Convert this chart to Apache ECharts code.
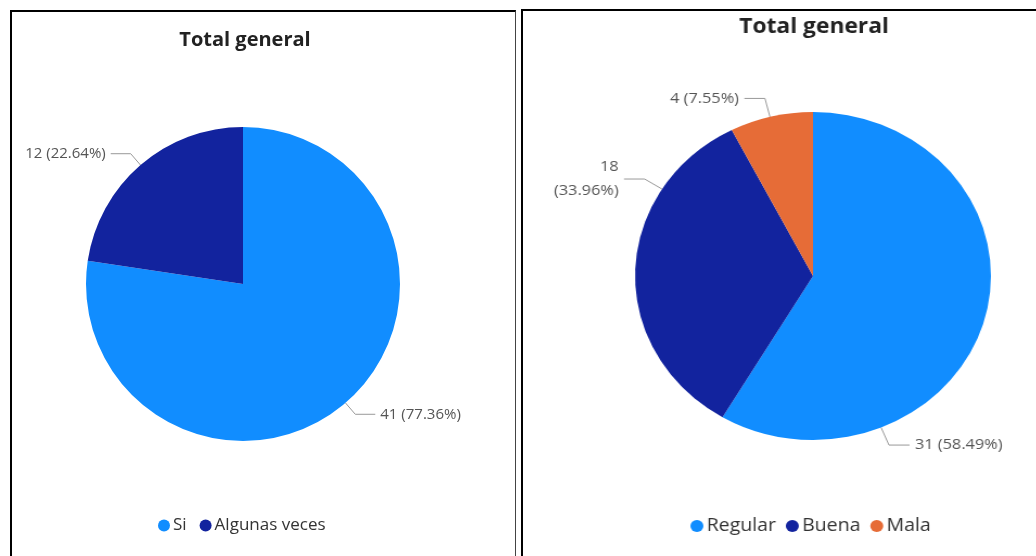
<!DOCTYPE html>
<html>
<head>
<meta charset="utf-8">
<script src="https://cdn.jsdelivr.net/npm/echarts@6/dist/echarts.min.js"></script>
<style>
  html, body { margin: 0; padding: 0; background: #fff; overflow: hidden; }
  .chart { position: absolute; left: 0; top: 0; width: 1036px; height: 556px; }
  #wrapRight { position: absolute; left: 523px; top: 0; width: 513px; height: 556px; overflow: hidden; }
  #right { left: -523px; width: 1400px; transform: scaleX(1.085); transform-origin: 813px 0; }
  .panel { position: absolute; border: 2px solid #000; border-bottom: none; pointer-events: none; }
</style>
</head>
<body>
<div id="left" class="chart"></div>
<div id="wrapRight"><div id="right" class="chart"></div></div>
<div class="panel" style="left:10px;top:10px;width:503px;height:560px;border-right-width:1px;border-right-color:#444"></div>
<div class="panel" style="left:521px;top:9px;width:540px;height:560px"></div>
<script>
// datos de las dos gráficas
var leftNames = ['Si', 'Algunas veces']
var leftValues = [41, 12]
var rightNames = ['Regular', 'Buena', 'Mala']
var rightValues = [31, 18, 4]
var colors = ['#118DFF', '#12239E', '#E66C37']

// ángulo (grados desde arriba, sentido horario) donde Power BI puso cada etiqueta
var rightLabelAngles = [157.5, 302, 346]

function toData (names, values) {
  return names.map(function (n, i) {
    return { name: n, value: values[i], itemStyle: { color: colors[i] } }
  })
}

var labelFont = { color: '#555', fontSize: 15, fontFamily: 'Open Sans' }
var lineStyle = { color: '#999', width: 1 }

var leftChart = echarts.init(document.getElementById('left'))
leftChart.setOption({
  animation: false,
  title: {
    text: 'Total general', left: 240, top: 25, textAlign: 'center',
    textStyle: { fontSize: 20, fontWeight: 'bold', color: '#222', fontFamily: 'Open Sans' }
  },
  legend: {
    data: leftNames, left: 153, top: 512,
    icon: 'circle', itemWidth: 12, itemHeight: 12, itemGap: 13,
    textStyle: { fontSize: 17, color: '#333', fontFamily: 'Open Sans', padding: [0, 0, 0, -2] }
  },
  series: [{
    type: 'pie',
    center: [243, 284],
    radius: [0, 157],
    startAngle: 90,
    clockwise: true,
    percentPrecision: 2,
    data: toData(leftNames, leftValues),
    label: Object.assign({ formatter: '{c} ({d}%)' }, labelFont),
    labelLine: { length: 15, length2: 20, lineStyle: lineStyle }
  }]
})

var rc = [813, 276]
var rr = 164
var rightChart = echarts.init(document.getElementById('right'))
rightChart.setOption({
  animation: false,
  title: {
    text: 'Total general', left: 809, top: 12, textAlign: 'center',
    textStyle: { fontSize: 21, fontWeight: 'bold', color: '#222', fontFamily: 'Open Sans' }
  },
  legend: {
    data: rightNames, left: 695, top: 512,
    icon: 'circle', itemWidth: 12, itemHeight: 12, itemGap: 9,
    textStyle: { fontSize: 18, color: '#333', fontFamily: 'Open Sans', padding: [0, 0, 0, -2] }
  },
  series: [{
    type: 'pie',
    center: rc,
    radius: [0, rr],
    startAngle: 90,
    clockwise: true,
    percentPrecision: 2,
    data: toData(rightNames, rightValues),
    label: Object.assign({
      formatter: function (p) {
        return p.name === 'Buena' ? p.value + '\n(' + p.percent + '%)' : p.value + ' (' + p.percent + '%)'
      },
      lineHeight: 24,
      overflow: 'none'
    }, labelFont),
    labelLine: { show: true, lineStyle: lineStyle },
    labelLayout: function (params) {
      var a = rightLabelAngles[params.dataIndex] * Math.PI / 180
      var sx = Math.sin(a)
      var sy = -Math.cos(a)
      var p0 = [rc[0] + rr * sx, rc[1] + rr * sy]
      var p1 = [rc[0] + (rr + 19) * sx, rc[1] + (rr + 19) * sy]
      var dir = sx >= 0 ? 1 : -1
      var p2 = [p1[0] + dir * 19, p1[1]]
      return {
        x: p2[0] + dir * 5,
        y: p2[1],
        align: dir > 0 ? 'left' : 'right',
        verticalAlign: 'middle',
        labelLinePoints: [p0, p1, p2]
      }
    }
  }]
})
</script>
</body>
</html>
